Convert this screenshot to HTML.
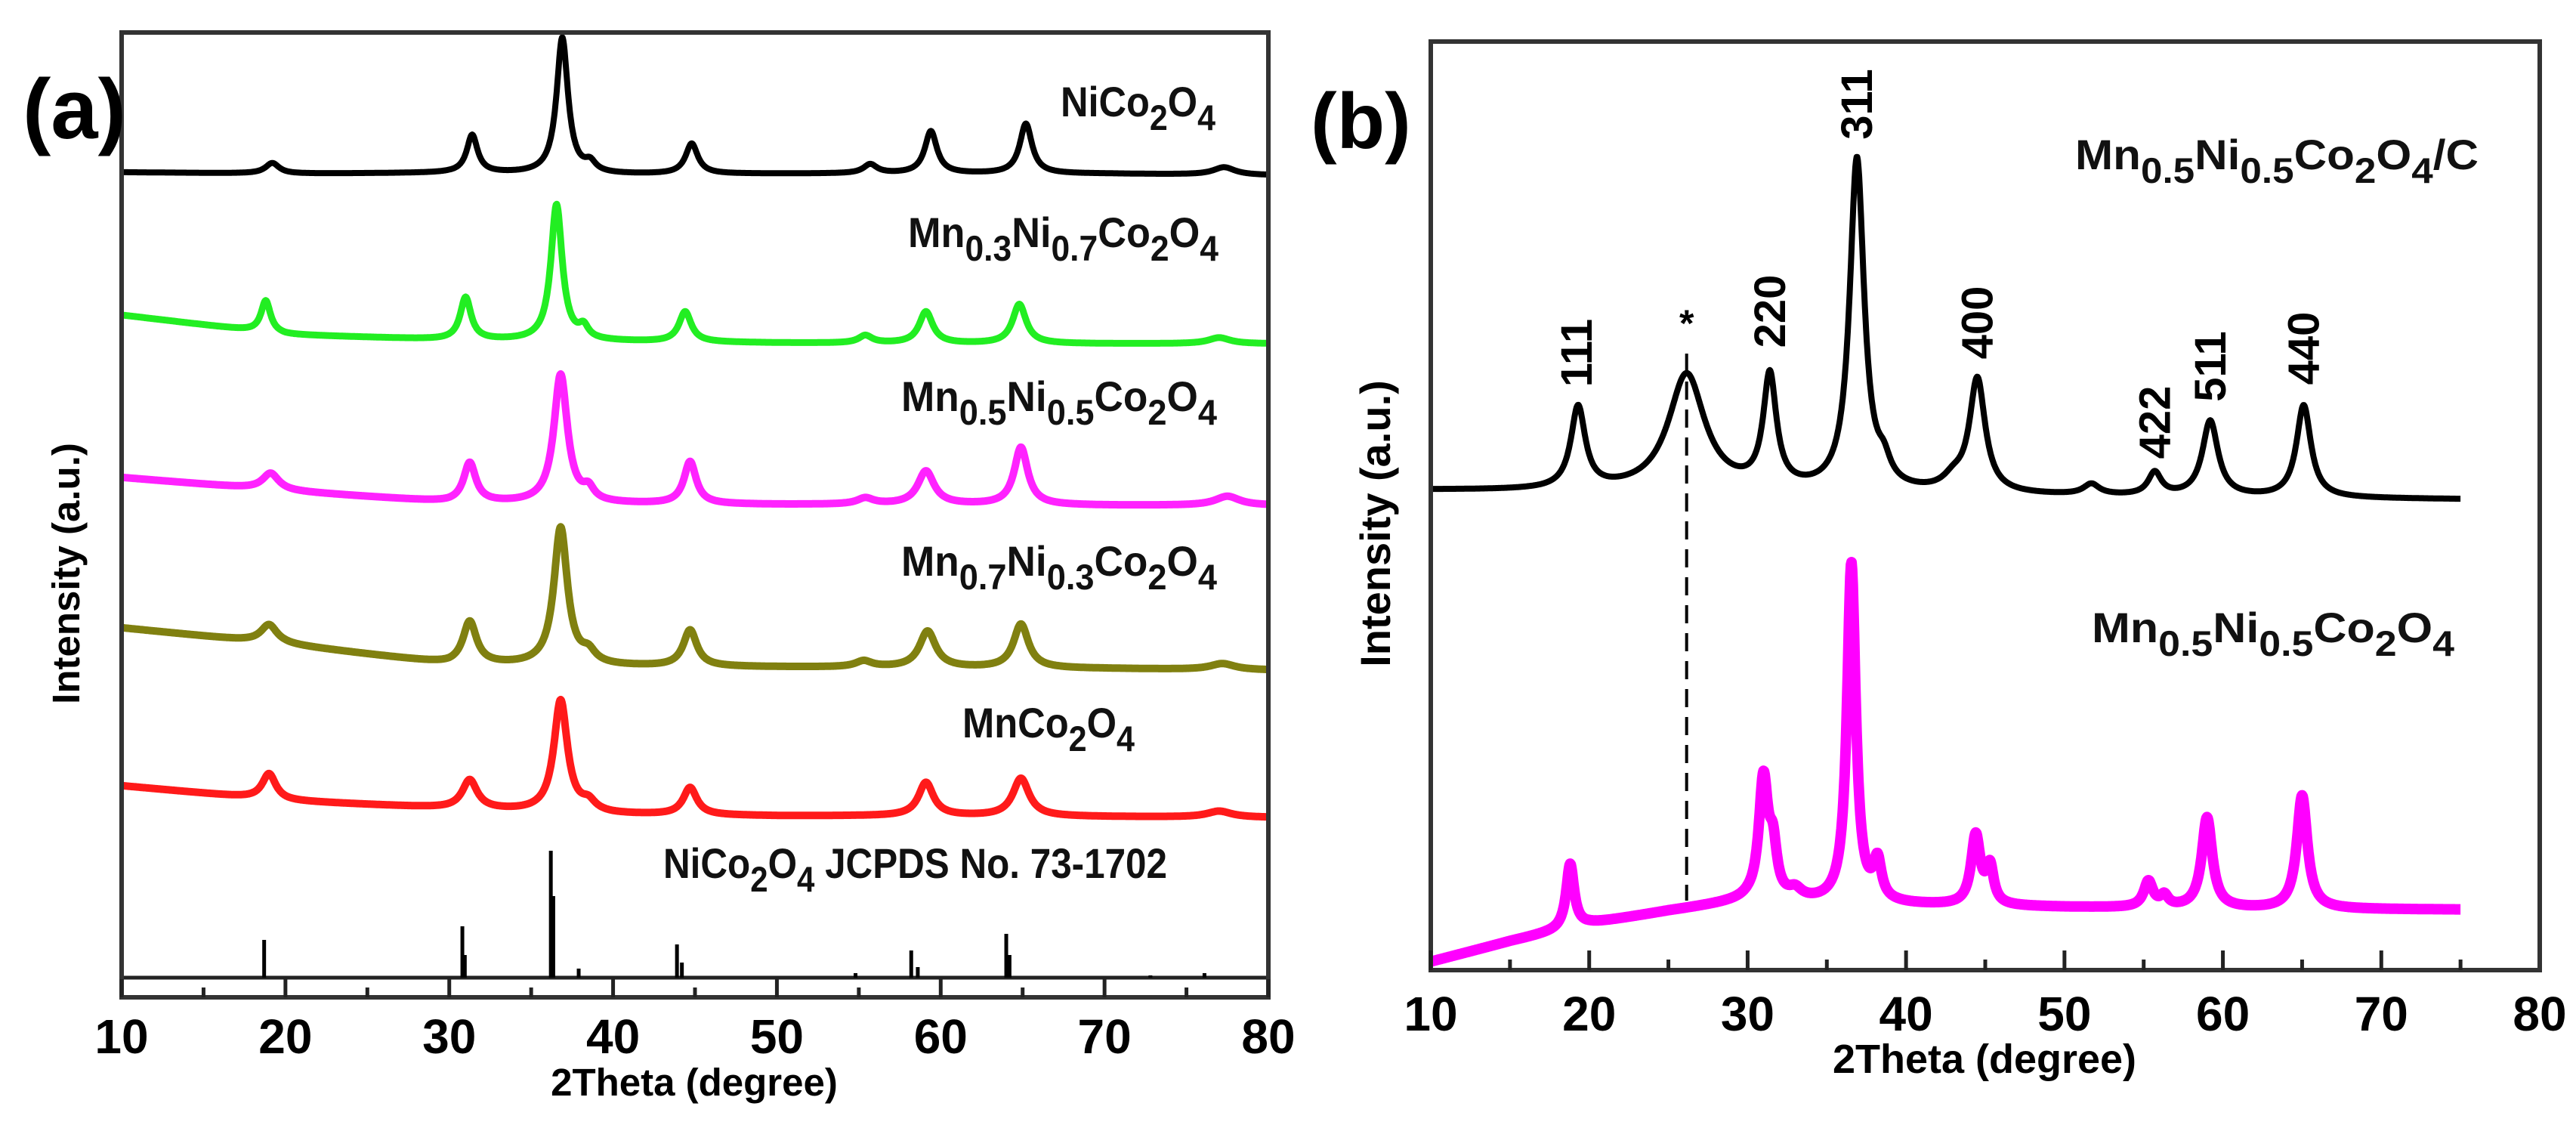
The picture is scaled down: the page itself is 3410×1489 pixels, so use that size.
<!DOCTYPE html>
<html><head><meta charset="utf-8"><style>
html,body{margin:0;padding:0;background:#fff}
svg{display:block}
text{font-family:"Liberation Sans",Arial,sans-serif}
</style></head><body>
<svg id="fig" width="3410" height="1489" viewBox="0 0 3410 1489" xmlns="http://www.w3.org/2000/svg">
<rect width="3410" height="1489" fill="#fff"/>
<g id="pa"></g>
<g id="pb"></g>
</svg>
<script>
// ---------- Panel (a) data ----------
const knotsA = [10,20,30,40,50,60,70,80];
const baseNiCo = [1092,1090,1091,1089,1090,1090,1090,1088];
const baseMn03 = [903,877,870,868,866,865,865,865];
const baseMn05 = [688,670,655,653,652,652,651,651];
const baseMn07 = [489,467,441,438,437,436,435,433];
const baseMnCo = [280,260,250,242,240,240,239,238];
const peaksNiCo = [[19.2,14,0.5],[31.4,50,0.4],[36.9,180,0.42],[38.6,12,0.4],[44.8,40,0.45],[55.7,12,0.5],[59.4,56,0.45],[65.2,66,0.45],[77.3,10,0.8]];
const peaksMn03 = [[18.8,42,0.35],[31.0,56,0.4],[36.55,180,0.42],[38.2,15,0.35],[44.4,40,0.45],[55.4,10,0.5],[59.1,42,0.5],[64.8,52,0.5],[77,8,0.8]];
const peaksMn05 = [[19.1,22,0.6],[31.25,52,0.45],[36.8,170,0.5],[38.5,15,0.4],[44.7,56,0.45],[55.4,8,0.6],[59.1,44,0.6],[64.9,76,0.5],[77.5,12,0.9]];
const peaksMn07 = [[19.0,24,0.6],[31.25,56,0.5],[36.8,182,0.5],[38.5,14,0.5],[44.7,48,0.5],[55.3,8,0.6],[59.2,48,0.6],[64.9,58,0.55],[77.2,8,0.9]];
const peaksMnCo = [[19.0,34,0.5],[31.25,38,0.55],[36.8,148,0.5],[38.5,12,0.5],[44.7,36,0.5],[59.1,44,0.55],[64.9,50,0.6],[77,8,0.9]];
const stickPos = [18.7,30.8,30.95,36.2,36.35,37.9,43.9,44.2,54.8,58.2,58.6,64.0,64.2,72.8,76.1];
const stickH   = [50,68,30,168,108,12,44,20,6,36,14,58,30,3,6];
const ticksA = [10,20,30,40,50,60,70,80];
// ---------- Panel (b) data ----------
const knotsB = [10,15,20,25,30,35,40,50,60,75];
const baseComposite = [635,634,633,632,631,630,629,627,625,623];
const baseMn05b = [11,38,61,78,92,88,86,83,81,80];
const peaksComposite = [[19.3,108,0.55],[26.15,155,1.4],[31.4,148,0.5],[36.9,440,0.55],[38.6,25,0.5],[43.0,15,0.8],[44.5,150,0.6],[51.7,14,0.6],[55.7,30,0.5],[59.2,100,0.6],[65.1,122,0.55]];
const peaksMn05b = [[18.8,85,0.3],[31.0,158,0.35],[31.6,60,0.3],[33.0,12,0.5],[36.55,450,0.33],[38.2,50,0.3],[44.4,92,0.35],[45.3,48,0.28],[55.3,34,0.35],[56.3,14,0.3],[59.0,120,0.4],[65.0,150,0.4]];
const hklLabels = ["111","*","220","311","400","422","511","440"];
const hklPos = [19.2,26.15,31.4,36.9,44.5,55.7,59.2,65.1];
const hklY = [467,425,412,138,427,559,485,461];
const ticksB = [10,20,30,40,50,60,70,80];

const NS = "http://www.w3.org/2000/svg";
function mk(parent, tag, attrs){ const e=document.createElementNS(NS,tag); for(const k in attrs) e.setAttribute(k,attrs[k]); parent.appendChild(e); return e; }
function interp(knots, vals, x){ if(x<=knots[0]) return vals[0]; for(let i=1;i<knots.length;i++){ if(x<=knots[i]){ const t=(x-knots[i-1])/(knots[i]-knots[i-1]); return vals[i-1]+t*(vals[i]-vals[i-1]); } } return vals[vals.length-1]; }
function signal(knots, base, peaks, x){ let v=interp(knots,base,x); for(const p of peaks){ const d=(x-p[0])/p[2]; v+=p[1]/(1+d*d);} return v; }

const xA = d => 161 + (d-10)*(1679-161)/70;
const yA = v => 1320 - v;
const xB = d => 1894 + (d-10)*(3362-1894)/70;
const yB = v => 1284 - v;

function curve(parent, knots, base, peaks, x0, x1, xs, ys, color, sw, name){
  let d=""; for(let x=x0;x<=x1+1e-9;x+=0.04){ const v=signal(knots,base,peaks,x); d+=(d?"L":"M")+xs(x).toFixed(1)+","+ys(v).toFixed(1); }
  const p=mk(parent,"path",{d:d,fill:"none",stroke:color,"stroke-width":sw,"stroke-linejoin":"round"});
  
  
  return p;
}
function formula(parent, x, y, parts, size, len, name){
  const t=mk(parent,"text",{x:x,y:y,"font-size":size,"font-weight":"bold",fill:"#111"});
  if(len){ t.setAttribute("textLength",len); t.setAttribute("lengthAdjust","spacingAndGlyphs"); }
  
  
  let sub=false;
  for(const [s,isSub] of parts){ const ts=mk(t,"tspan",{}); if(isSub!==sub){ ts.setAttribute("dy", isSub? size*0.32 : -size*0.32); sub=isSub; } if(isSub) ts.setAttribute("font-size",size*0.85); ts.textContent=s; }
  return t;
}
function txt(parent,x,y,s,size,attrs,name){ const t=mk(parent,"text",Object.assign({x:x,y:y,"font-size":size,"font-weight":"bold",fill:"#000"},attrs||{})); t.textContent=s;
  
  
  return t; }

// ---------------- Panel (a) ----------------
const pa=document.getElementById("pa");
curve(pa,knotsA,baseNiCo,peaksNiCo,10,80,xA,yA,"#000",8,"series-nico2o4");
curve(pa,knotsA,baseMn03,peaksMn03,10,80,xA,yA,"#22ee22",9,"series-mn03");
curve(pa,knotsA,baseMn05,peaksMn05,10,80,xA,yA,"#ff22ff",10,"series-mn05");
curve(pa,knotsA,baseMn07,peaksMn07,10,80,xA,yA,"#808010",10,"series-mn07");
curve(pa,knotsA,baseMnCo,peaksMnCo,10,80,xA,yA,"#ff1a1a",10,"series-mnco2o4");
const refLine=mk(pa,"line",{x1:161,y1:1294,x2:1679,y2:1294,stroke:"#222","stroke-width":5});


stickPos.forEach((p,i)=>{ const l=mk(pa,"line",{x1:xA(p),x2:xA(p),y1:1294,y2:1294-stickH[i],stroke:"#000","stroke-width":5});
  
   });
const fa=mk(pa,"rect",{x:161,y:43,width:1518,height:1277,fill:"none",stroke:"#333","stroke-width":6});


for(let t=10;t<=80;t+=5){ const major=t%10===0; const l=mk(pa,"line",{x1:xA(t),x2:xA(t),y1:1320,y2:1320-(major?24:13),stroke:"#222","stroke-width":5});
  
   }
ticksA.forEach(t=>txt(pa,xA(t),1394,String(t),64,{"text-anchor":"middle"},"x-tick-label-a"));
txt(pa,919,1450,"2Theta (degree)",51,{"text-anchor":"middle"},"x-axis-title-a");
txt(pa,0,0,"Intensity (a.u.)",51,{"text-anchor":"middle",transform:"translate(105,759) rotate(-90)"},"y-axis-title-a");
txt(pa,30,183,"(a)",112,{},"panel-label-a");
formula(pa,1404,172,[["NiCo",0],["2",1],["O",0],["4",1]],56,205,"label-nico2o4");
formula(pa,1202,345,[["Mn",0],["0.3",1],["Ni",0],["0.7",1],["Co",0],["2",1],["O",0],["4",1]],56,411,"label-mn03");
formula(pa,1193,562,[["Mn",0],["0.5",1],["Ni",0],["0.5",1],["Co",0],["2",1],["O",0],["4",1]],56,418,"label-mn05");
formula(pa,1193,780,[["Mn",0],["0.7",1],["Ni",0],["0.3",1],["Co",0],["2",1],["O",0],["4",1]],56,418,"label-mn07");
formula(pa,1274,994,[["MnCo",0],["2",1],["O",0],["4",1]],56,228,"label-mnco2o4");
formula(pa,878,1180,[["NiCo",0],["2",1],["O",0],["4",1],[" JCPDS No. 73-1702",0]],56,667,"label-jcpds");

// ---------------- Panel (b) ----------------
const pb=document.getElementById("pb");
curve(pb,knotsB,baseMn05b,peaksMn05b,10,75,xB,yB,"#ff00ff",14,"series-mn05-b");
curve(pb,knotsB,baseComposite,peaksComposite,10,75,xB,yB,"#000",8,"series-composite-b");
const dl=mk(pb,"line",{x1:xB(26.15),x2:xB(26.15),y1:468,y2:1192,stroke:"#000","stroke-width":4,"stroke-dasharray":"24,13"});


const fb=mk(pb,"rect",{x:1894,y:55,width:1468,height:1229,fill:"none",stroke:"#333","stroke-width":6});


for(let t=10;t<=75;t+=5){ const major=t%10===0; const l=mk(pb,"line",{x1:xB(t),x2:xB(t),y1:1284,y2:1284-(major?26:14),stroke:"#222","stroke-width":5});
  
   }
ticksB.forEach(t=>txt(pb,xB(t),1364,String(t),64,{"text-anchor":"middle"},"x-tick-label-b"));
txt(pb,2627,1420,"2Theta (degree)",54,{"text-anchor":"middle"},"x-axis-title-b");
txt(pb,0,0,"Intensity (a.u.)",56,{"text-anchor":"middle",transform:"translate(1840,693) rotate(-90)"},"y-axis-title-b");
txt(pb,1735,196,"(b)",104,{},"panel-label-b");
hklLabels.forEach((s,i)=>{
  if(s==="*"){ txt(pb,xB(hklPos[i]),445,"*",50,{"text-anchor":"middle"},"hkl-label"); }
  else txt(pb,0,0,s,58,{"text-anchor":"middle",transform:`translate(${xB(hklPos[i])+20},${hklY[i]}) rotate(-90)`},"hkl-label");
});
formula(pb,2747,242,[["Mn",0],["0.5",1],["Ni",0],["0.5",1],["Co",0],["2",1],["O",0],["4",1],["/C",0]],56,534,"label-composite");
formula(pb,2769,868,[["Mn",0],["0.5",1],["Ni",0],["0.5",1],["Co",0],["2",1],["O",0],["4",1]],56,480,"label-mn05-b");
</script>
</body></html>
